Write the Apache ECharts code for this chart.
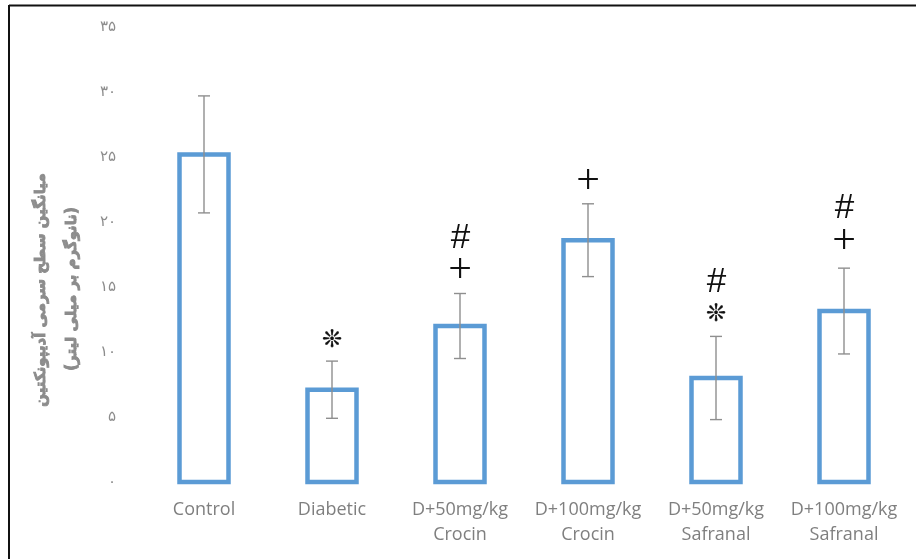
<!DOCTYPE html>
<html>
<head>
<meta charset="utf-8">
<script src="https://cdn.jsdelivr.net/npm/echarts@6/dist/echarts.min.js"></script>
<style>
  html, body { margin: 0; padding: 0; background: #fff; }
  #chart { width: 916px; height: 559px; }
</style>
</head>
<body>
<div id="chart"></div>
<script>
// Groups on the x axis
const categories = [
  'Control',
  'Diabetic',
  'D+50mg/kg\nCrocin',
  'D+100mg/kg\nCrocin',
  'D+50mg/kg\nSafranal',
  'D+100mg/kg\nSafranal'
];

// Mean serum adiponectin (ng/ml) and its error half-width
const meanValues = [25.2, 7.1, 12.0, 18.6, 8.0, 13.15];
const errorValues = [4.5, 2.2, 2.5, 2.8, 3.2, 3.3];

// Significance marks: [category index, value level, symbol]
const marks = [
  [1, 10.85, '❊'],
  [2, 18.77, '#'],
  [2, 16.23, '+'],
  [3, 23.08, '+'],
  [4, 15.38, '#'],
  [4, 12.85, '❊'],
  [5, 21.08, '#'],
  [5, 18.46, '+']
];

// Y axis ticks
const yMin = 0, yMax = 35, yStep = 5;

// Axis title lines (Persian)
const titleLines = ['میانگین سطح سرمی آدیپونکتین', '(نانوگرم بر میلی لیتر)'];

const persianDigits = '۰۱۲۳۴۵۶۷۸۹';
const toPersian = v => String(v).replace(/[0-9]/g, d => persianDigits[+d]);

const errorData = meanValues.map((m, i) => [i, m - errorValues[i], m + errorValues[i]]);
const barData = meanValues.map((m, i) => [i, m]);

const markFont = {
  '#': { fontFamily: 'Liberation Sans', fontSize: 35, fontStyle: 'italic', stroke: 0 },
  '+': { fontFamily: 'Liberation Serif', fontSize: 42, fontStyle: 'normal', stroke: 0 },
  '❊': { fontFamily: 'DejaVu Sans', fontSize: 24, fontStyle: 'normal', stroke: 0.3 }
};

const chart = echarts.init(document.getElementById('chart'), null, { renderer: 'canvas' });

chart.setOption({
  animation: false,
  backgroundColor: '#ffffff',
  grid: { left: 140, right: 8, top: 27, bottom: 77, containLabel: false },
  xAxis: {
    type: 'category',
    data: categories,
    axisLine: { show: false },
    axisTick: { show: false },
    axisLabel: {
      color: '#7f7f7f',
      fontFamily: 'Open Sans',
      fontSize: 18,
      lineHeight: 25,
      margin: 15,
      interval: 0
    }
  },
  yAxis: {
    type: 'value',
    min: yMin,
    max: yMax,
    interval: yStep,
    splitLine: { show: false },
    axisLine: { show: false },
    axisTick: { show: false },
    axisLabel: {
      color: '#8c8c8c',
      fontFamily: 'DejaVu Sans',
      fontSize: 15,
      margin: 24,
      formatter: v => toPersian(v)
    }
  },
  series: [
    {
      // Hollow bars, outline centred on the value edge
      type: 'custom',
      data: barData,
      z: 2,
      renderItem: (params, api) => {
        const top = api.coord([api.value(0), api.value(1)]);
        const base = api.coord([api.value(0), 0]);
        const w = 49;
        return {
          type: 'rect',
          shape: { x: top[0] - w / 2, y: top[1], width: w, height: base[1] - top[1] },
          style: { fill: '#ffffff', stroke: '#5B9BD5', lineWidth: 4.5 }
        };
      }
    },
    {
      type: 'custom',
      data: errorData,
      z: 3,
      renderItem: (params, api) => {
        const x = api.value(0);
        const lo = api.coord([x, api.value(1)]);
        const hi = api.coord([x, api.value(2)]);
        const half = 6;
        const style = { stroke: '#8f8f8f', lineWidth: 1.4, fill: null };
        return {
          type: 'group',
          children: [
            { type: 'line', shape: { x1: hi[0], y1: hi[1], x2: lo[0], y2: lo[1] }, style },
            { type: 'line', shape: { x1: hi[0] - half, y1: hi[1], x2: hi[0] + half, y2: hi[1] }, style },
            { type: 'line', shape: { x1: lo[0] - half, y1: lo[1], x2: lo[0] + half, y2: lo[1] }, style }
          ]
        };
      }
    },
    {
      type: 'custom',
      data: marks,
      z: 4,
      renderItem: (params, api) => {
        const p = api.coord([api.value(0), api.value(1)]);
        const sym = marks[params.dataIndex][2];
        const f = markFont[sym];
        return {
          type: 'text',
          x: p[0],
          y: p[1],
          style: {
            text: sym,
            fill: '#111111',
            stroke: f.stroke ? '#111111' : null,
            lineWidth: f.stroke,
            fontFamily: f.fontFamily,
            fontSize: f.fontSize,
            fontStyle: f.fontStyle,
            align: 'center',
            verticalAlign: 'middle'
          }
        };
      }
    }
  ],
  graphic: [
    { type: 'line', shape: { x1: 9, y1: 5.5, x2: 916, y2: 5.5 }, style: { stroke: '#111', lineWidth: 2 } },
    { type: 'line', shape: { x1: 9, y1: 5, x2: 9, y2: 559 }, style: { stroke: '#111', lineWidth: 2 } },
    {
      type: 'text', x: 41, y: 290, rotation: Math.PI / 2,
      style: {
        text: titleLines[0], fill: '#8c8c8c', stroke: '#8c8c8c', lineWidth: 0.9,
        fontFamily: 'DejaVu Sans', fontWeight: 'bold', fontSize: 15,
        align: 'center', verticalAlign: 'middle'
      }
    },
    {
      type: 'text', x: 72, y: 289, rotation: Math.PI / 2,
      style: {
        text: titleLines[1], fill: '#8c8c8c', stroke: '#8c8c8c', lineWidth: 0.9,
        fontFamily: 'DejaVu Sans', fontWeight: 'bold', fontSize: 15,
        align: 'center', verticalAlign: 'middle'
      }
    }
  ]
});
</script>
</body>
</html>
